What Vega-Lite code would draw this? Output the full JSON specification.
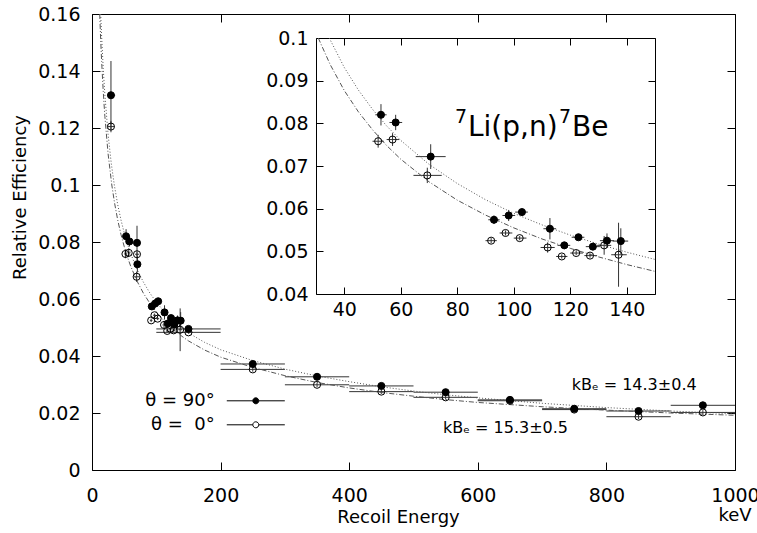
{
  "$schema": "https://vega.github.io/schema/vega-lite/v6.json",
  "width": 643,
  "height": 456,
  "autosize": {"type": "none"},
  "padding": {"left": 92, "top": 14, "right": 22, "bottom": 63},
  "background": "white",
  "datasets": {
    "pts": [
      {"s": "θ = 90°", "E": 29.5, "y": 0.1315, "xlo": 24, "xhi": 36, "ylo": 0.1195, "yhi": 0.1435, "ins": false},
      {"s": "θ = 90°", "E": 53.0, "y": 0.0820, "xlo": 51, "xhi": 55, "ylo": 0.0795, "yhi": 0.0845, "ins": true},
      {"s": "θ = 90°", "E": 58.2, "y": 0.0802, "xlo": 56, "xhi": 60.5, "ylo": 0.0784, "yhi": 0.0820, "ins": true},
      {"s": "θ = 90°", "E": 70.6, "y": 0.0722, "xlo": 65.3, "xhi": 75.9, "ylo": 0.0693, "yhi": 0.0751, "ins": true},
      {"s": "θ = 90°", "E": 70.0, "y": 0.0797, "xlo": 67, "xhi": 73, "ylo": 0.0737, "yhi": 0.0857, "ins": false},
      {"s": "θ = 90°", "E": 93.0, "y": 0.0574, "xlo": 91, "xhi": 95, "ylo": 0.0564, "yhi": 0.0584, "ins": true},
      {"s": "θ = 90°", "E": 98.2, "y": 0.0584, "xlo": 96, "xhi": 100.5, "ylo": 0.0571, "yhi": 0.0597, "ins": true},
      {"s": "θ = 90°", "E": 102.9, "y": 0.0592, "xlo": 100.5, "xhi": 105, "ylo": 0.0584, "yhi": 0.0600, "ins": true},
      {"s": "θ = 90°", "E": 112.8, "y": 0.0553, "xlo": 110.5, "xhi": 115, "ylo": 0.0528, "yhi": 0.0578, "ins": true},
      {"s": "θ = 90°", "E": 117.9, "y": 0.0514, "xlo": 115.5, "xhi": 120, "ylo": 0.0506, "yhi": 0.0522, "ins": true},
      {"s": "θ = 90°", "E": 122.9, "y": 0.0533, "xlo": 120.5, "xhi": 125, "ylo": 0.0528, "yhi": 0.0538, "ins": true},
      {"s": "θ = 90°", "E": 128.0, "y": 0.0511, "xlo": 125.5, "xhi": 130.5, "ylo": 0.0503, "yhi": 0.0519, "ins": true},
      {"s": "θ = 90°", "E": 133.0, "y": 0.0525, "xlo": 130.5, "xhi": 135.5, "ylo": 0.0508, "yhi": 0.0542, "ins": true},
      {"s": "θ = 90°", "E": 137.9, "y": 0.0524, "xlo": 135, "xhi": 140.5, "ylo": 0.0494, "yhi": 0.0554, "ins": true},
      {"s": "θ = 90°", "E": 150, "y": 0.0495, "xlo": 100, "xhi": 200, "ylo": 0.0488, "yhi": 0.0502, "ins": false},
      {"s": "θ = 90°", "E": 250, "y": 0.0372, "xlo": 200, "xhi": 300, "ylo": 0.0362, "yhi": 0.0382, "ins": false},
      {"s": "θ = 90°", "E": 350, "y": 0.0327, "xlo": 300, "xhi": 400, "ylo": 0.0317, "yhi": 0.0337, "ins": false},
      {"s": "θ = 90°", "E": 450, "y": 0.0295, "xlo": 400, "xhi": 500, "ylo": 0.0285, "yhi": 0.0305, "ins": false},
      {"s": "θ = 90°", "E": 550, "y": 0.0273, "xlo": 500, "xhi": 600, "ylo": 0.0263, "yhi": 0.0283, "ins": false},
      {"s": "θ = 90°", "E": 650, "y": 0.0246, "xlo": 600, "xhi": 700, "ylo": 0.0236, "yhi": 0.0256, "ins": false},
      {"s": "θ = 90°", "E": 750, "y": 0.0215, "xlo": 700, "xhi": 800, "ylo": 0.0207, "yhi": 0.0223, "ins": false},
      {"s": "θ = 90°", "E": 850, "y": 0.0207, "xlo": 800, "xhi": 900, "ylo": 0.0199, "yhi": 0.0215, "ins": false},
      {"s": "θ = 90°", "E": 950, "y": 0.0227, "xlo": 900, "xhi": 1000, "ylo": 0.0215, "yhi": 0.0239, "ins": false},
      {"s": "θ =\u00a0 0°", "E": 29.5, "y": 0.1205, "xlo": 24, "xhi": 35, "ylo": 0.1185, "yhi": 0.1225, "ins": false},
      {"s": "θ =\u00a0 0°", "E": 52.0, "y": 0.0758, "xlo": 50, "xhi": 54, "ylo": 0.0743, "yhi": 0.0773, "ins": true},
      {"s": "θ =\u00a0 0°", "E": 57.1, "y": 0.0762, "xlo": 55, "xhi": 59.5, "ylo": 0.0747, "yhi": 0.0777, "ins": true},
      {"s": "θ =\u00a0 0°", "E": 69.4, "y": 0.0678, "xlo": 64.5, "xhi": 74.5, "ylo": 0.0660, "yhi": 0.0696, "ins": true},
      {"s": "θ =\u00a0 0°", "E": 70.0, "y": 0.0757, "xlo": 67, "xhi": 73.5, "ylo": 0.0750, "yhi": 0.0764, "ins": false},
      {"s": "θ =\u00a0 0°", "E": 92.0, "y": 0.0525, "xlo": 90, "xhi": 94, "ylo": 0.0519, "yhi": 0.0531, "ins": true},
      {"s": "θ =\u00a0 0°", "E": 97.1, "y": 0.0543, "xlo": 95, "xhi": 99.5, "ylo": 0.0537, "yhi": 0.0549, "ins": true},
      {"s": "θ =\u00a0 0°", "E": 102.1, "y": 0.0531, "xlo": 100, "xhi": 104.5, "ylo": 0.0526, "yhi": 0.0536, "ins": true},
      {"s": "θ =\u00a0 0°", "E": 112.0, "y": 0.0509, "xlo": 109.5, "xhi": 114.5, "ylo": 0.0497, "yhi": 0.0521, "ins": true},
      {"s": "θ =\u00a0 0°", "E": 117.0, "y": 0.0488, "xlo": 115, "xhi": 119, "ylo": 0.0483, "yhi": 0.0493, "ins": true},
      {"s": "θ =\u00a0 0°", "E": 122.1, "y": 0.0496, "xlo": 120, "xhi": 124.5, "ylo": 0.0491, "yhi": 0.0501, "ins": true},
      {"s": "θ =\u00a0 0°", "E": 127.0, "y": 0.0490, "xlo": 125, "xhi": 129.5, "ylo": 0.0485, "yhi": 0.0495, "ins": true},
      {"s": "θ =\u00a0 0°", "E": 132.0, "y": 0.0514, "xlo": 129.5, "xhi": 134.5, "ylo": 0.0492, "yhi": 0.0536, "ins": true},
      {"s": "θ =\u00a0 0°", "E": 137.1, "y": 0.0492, "xlo": 134.5, "xhi": 140, "ylo": 0.0417, "yhi": 0.0567, "ins": true},
      {"s": "θ =\u00a0 0°", "E": 150, "y": 0.0483, "xlo": 100, "xhi": 200, "ylo": 0.0478, "yhi": 0.0488, "ins": false},
      {"s": "θ =\u00a0 0°", "E": 250, "y": 0.0353, "xlo": 200, "xhi": 300, "ylo": 0.0345, "yhi": 0.0361, "ins": false},
      {"s": "θ =\u00a0 0°", "E": 350, "y": 0.0299, "xlo": 300, "xhi": 400, "ylo": 0.0291, "yhi": 0.0307, "ins": false},
      {"s": "θ =\u00a0 0°", "E": 450, "y": 0.0275, "xlo": 400, "xhi": 500, "ylo": 0.0267, "yhi": 0.0283, "ins": false},
      {"s": "θ =\u00a0 0°", "E": 550, "y": 0.0255, "xlo": 500, "xhi": 600, "ylo": 0.0247, "yhi": 0.0263, "ins": false},
      {"s": "θ =\u00a0 0°", "E": 650, "y": 0.0243, "xlo": 600, "xhi": 700, "ylo": 0.0235, "yhi": 0.0251, "ins": false},
      {"s": "θ =\u00a0 0°", "E": 750, "y": 0.0212, "xlo": 700, "xhi": 800, "ylo": 0.0204, "yhi": 0.0220, "ins": false},
      {"s": "θ =\u00a0 0°", "E": 850, "y": 0.0187, "xlo": 800, "xhi": 900, "ylo": 0.0179, "yhi": 0.0195, "ins": false},
      {"s": "θ =\u00a0 0°", "E": 950, "y": 0.0202, "xlo": 900, "xhi": 1000, "ylo": 0.0194, "yhi": 0.0210, "ins": false}
    ],
    "fits": [
      {"c": "14.3", "E": 13.5, "y": 0.160}, {"c": "14.3", "E": 15, "y": 0.152}, {"c": "14.3", "E": 17.5, "y": 0.1408},
      {"c": "14.3", "E": 20, "y": 0.1317}, {"c": "14.3", "E": 25, "y": 0.1178}, {"c": "14.3", "E": 30, "y": 0.1075},
      {"c": "14.3", "E": 34.7, "y": 0.100}, {"c": "14.3", "E": 40, "y": 0.0931}, {"c": "14.3", "E": 45, "y": 0.0878},
      {"c": "14.3", "E": 50, "y": 0.0833}, {"c": "14.3", "E": 55, "y": 0.0794}, {"c": "14.3", "E": 60, "y": 0.0760},
      {"c": "14.3", "E": 70, "y": 0.0704}, {"c": "14.3", "E": 80, "y": 0.0659}, {"c": "14.3", "E": 90, "y": 0.0621},
      {"c": "14.3", "E": 100, "y": 0.0589}, {"c": "14.3", "E": 110, "y": 0.0562}, {"c": "14.3", "E": 120, "y": 0.0538},
      {"c": "14.3", "E": 130, "y": 0.0517}, {"c": "14.3", "E": 140, "y": 0.0498}, {"c": "14.3", "E": 150, "y": 0.0481},
      {"c": "14.3", "E": 175, "y": 0.0448}, {"c": "14.3", "E": 200, "y": 0.0422}, {"c": "14.3", "E": 250, "y": 0.0384},
      {"c": "14.3", "E": 300, "y": 0.0354}, {"c": "14.3", "E": 350, "y": 0.0330}, {"c": "14.3", "E": 400, "y": 0.0310},
      {"c": "14.3", "E": 450, "y": 0.0292}, {"c": "14.3", "E": 500, "y": 0.0277}, {"c": "14.3", "E": 550, "y": 0.0264},
      {"c": "14.3", "E": 600, "y": 0.0253}, {"c": "14.3", "E": 700, "y": 0.0234}, {"c": "14.3", "E": 800, "y": 0.0219},
      {"c": "14.3", "E": 900, "y": 0.0207}, {"c": "14.3", "E": 1000, "y": 0.0197},
      {"c": "15.3", "E": 12, "y": 0.160}, {"c": "15.3", "E": 13.5, "y": 0.151}, {"c": "15.3", "E": 15, "y": 0.1433},
      {"c": "15.3", "E": 17.5, "y": 0.1327}, {"c": "15.3", "E": 20, "y": 0.1241}, {"c": "15.3", "E": 25, "y": 0.1110},
      {"c": "15.3", "E": 30.8, "y": 0.100}, {"c": "15.3", "E": 35, "y": 0.0938}, {"c": "15.3", "E": 40, "y": 0.0877},
      {"c": "15.3", "E": 45, "y": 0.0827}, {"c": "15.3", "E": 50, "y": 0.0785}, {"c": "15.3", "E": 55, "y": 0.0748},
      {"c": "15.3", "E": 60, "y": 0.0716}, {"c": "15.3", "E": 70, "y": 0.0663}, {"c": "15.3", "E": 80, "y": 0.0620},
      {"c": "15.3", "E": 90, "y": 0.0585}, {"c": "15.3", "E": 100, "y": 0.0555}, {"c": "15.3", "E": 110, "y": 0.0529},
      {"c": "15.3", "E": 120, "y": 0.0507}, {"c": "15.3", "E": 130, "y": 0.0487}, {"c": "15.3", "E": 140, "y": 0.0469},
      {"c": "15.3", "E": 150, "y": 0.0453}, {"c": "15.3", "E": 175, "y": 0.0421}, {"c": "15.3", "E": 200, "y": 0.0396},
      {"c": "15.3", "E": 250, "y": 0.0360}, {"c": "15.3", "E": 300, "y": 0.0331}, {"c": "15.3", "E": 350, "y": 0.0307},
      {"c": "15.3", "E": 400, "y": 0.0288}, {"c": "15.3", "E": 450, "y": 0.0272}, {"c": "15.3", "E": 500, "y": 0.0259},
      {"c": "15.3", "E": 550, "y": 0.0247}, {"c": "15.3", "E": 600, "y": 0.0237}, {"c": "15.3", "E": 700, "y": 0.0222},
      {"c": "15.3", "E": 800, "y": 0.0210}, {"c": "15.3", "E": 900, "y": 0.0200}, {"c": "15.3", "E": 1000, "y": 0.0192}
    ],
    "notes": [
      {"t": "kBₑ = 14.3±0.4", "E": 746, "y": 0.0298},
      {"t": "kBₑ = 15.3±0.5", "E": 546, "y": 0.0147}
    ],
    "unit": [{"t": "keV", "E": 1000, "y": -0.0160}],
    "insetnote": [
      {"part": "a", "t": "7", "E": 83.8, "y": 0.0789},
      {"part": "b", "t": "Li(p,n)", "E": 83.8, "y": 0.0789},
      {"part": "c", "t": "7", "E": 83.8, "y": 0.0789},
      {"part": "d", "t": "Be", "E": 83.8, "y": 0.0789}
    ]
  },
  "resolve": {
    "scale": {"x": "independent", "y": "independent", "fill": "independent", "strokeDash": "independent"},
    "axis": {"x": "independent", "y": "independent"}
  },
  "layer": [
    {
      "data": {"name": "pts"},
      "mark": {"type": "rule", "stroke": "#333", "strokeWidth": 1, "clip": true},
      "encoding": {
        "x": {"field": "xlo", "type": "quantitative", "scale": {"domain": [0, 1000]},
          "axis": {"orient": "bottom", "values": [0, 200, 400, 600, 800, 1000], "format": "d", "tickSize": -8, "labelPadding": 24, "labelFlush": false, "domain": false,
            "title": "Recoil Energy", "titleX": 306, "titleY": 47, "titleBaseline": "middle", "titleAnchor": "start", "titleAlign": "center"}},
        "x2": {"field": "xhi"},
        "y": {"field": "y", "type": "quantitative", "scale": {"domain": [0, 0.16]},
          "axis": {"orient": "left", "values": [0, 0.02, 0.04, 0.06, 0.08, 0.1, 0.12, 0.14, 0.16], "format": "~g", "tickSize": -8, "labelPadding": 20, "labelFlush": false, "domain": false,
            "title": "Relative Efficiency", "titleX": -72, "titleY": 183, "titleBaseline": "middle", "titleAlign": "center", "titleAngle": -90}}
      }
    },
    {
      "data": {"name": "pts"},
      "mark": {"type": "rule", "stroke": "#333", "strokeWidth": 1, "clip": true},
      "encoding": {
        "x": {"field": "E", "type": "quantitative", "scale": {"domain": [0, 1000]},
          "axis": {"orient": "top", "values": [0, 200, 400, 600, 800, 1000], "tickSize": -8, "labels": false, "domain": false, "title": null}},
        "y": {"field": "ylo", "type": "quantitative", "scale": {"domain": [0, 0.16]},
          "axis": {"orient": "right", "values": [0, 0.02, 0.04, 0.06, 0.08, 0.1, 0.12, 0.14, 0.16], "tickSize": -8, "labels": false, "domain": false, "title": null}},
        "y2": {"field": "yhi"}
      }
    },
    {
      "data": {"name": "fits"},
      "mark": {"type": "line", "stroke": "#555", "strokeWidth": 1, "clip": true},
      "encoding": {
        "x": {"field": "E", "type": "quantitative", "scale": {"domain": [0, 1000]}, "axis": null},
        "y": {"field": "y", "type": "quantitative", "scale": {"domain": [0, 0.16]}, "axis": null},
        "strokeDash": {"field": "c", "type": "nominal", "scale": {"domain": ["14.3", "15.3"], "range": [[1, 2], [5, 2, 1, 2]]}, "legend": null}
      }
    },
    {
      "data": {"name": "pts"},
      "mark": {"type": "point", "filled": true, "stroke": "black", "strokeWidth": 1, "opacity": 1, "clip": true},
      "encoding": {
        "x": {"field": "E", "type": "quantitative", "scale": {"domain": [0, 1000]}, "axis": null},
        "y": {"field": "y", "type": "quantitative", "scale": {"domain": [0, 0.16]}, "axis": null},
        "fill": {"field": "s", "type": "nominal", "scale": {"domain": ["θ = 90°", "θ =\u00a0 0°"], "range": ["black", "transparent"]},
          "legend": {"orient": "none", "legendX": 153.3, "legendY": 376.3, "title": null,
            "symbolType": "M-3,0H-0.31M0.31,0H3M0.31,0A0.31,0.31,0,1,1,-0.31,0A0.31,0.31,0,1,1,0.31,0Z",
            "symbolSize": 374, "symbolStrokeColor": "black", "symbolStrokeWidth": 1,
            "labelAlign": "right", "labelOffset": -51.6, "labelFontSize": 18, "labelFont": "DejaVu Sans", "labelColor": "black",
            "rowPadding": 4, "padding": 0}}
      }
    },
    {
      "data": {"name": "pts"},
      "transform": [{"filter": "datum.ins"}],
      "mark": {"type": "rule", "stroke": "#333", "strokeWidth": 1},
      "encoding": {
        "x": {"field": "xlo", "type": "quantitative", "scale": {"domain": [30, 150], "range": [224, 563]},
          "axis": {"orient": "bottom", "offset": -176, "values": [40, 60, 80, 100, 120, 140], "format": "d", "tickSize": -7, "labelPadding": 13, "labelFlush": false, "domain": true, "title": null}},
        "x2": {"field": "xhi"},
        "y": {"field": "y", "type": "quantitative", "scale": {"domain": [0.04, 0.1], "range": [280, 24]},
          "axis": {"orient": "left", "offset": -224, "values": [0.04, 0.05, 0.06, 0.07, 0.08, 0.09, 0.1], "format": "~g", "tickSize": -7, "labelPadding": 15, "labelFlush": false, "domain": true, "title": null}}
      }
    },
    {
      "data": {"name": "pts"},
      "transform": [{"filter": "datum.ins"}],
      "mark": {"type": "rule", "stroke": "#333", "strokeWidth": 1},
      "encoding": {
        "x": {"field": "E", "type": "quantitative", "scale": {"domain": [30, 150], "range": [224, 563]},
          "axis": {"orient": "top", "offset": -24, "values": [40, 60, 80, 100, 120, 140], "tickSize": -7, "labels": false, "domain": true, "title": null}},
        "y": {"field": "ylo", "type": "quantitative", "scale": {"domain": [0.04, 0.1], "range": [280, 24]},
          "axis": {"orient": "right", "offset": -80, "values": [0.04, 0.05, 0.06, 0.07, 0.08, 0.09, 0.1], "tickSize": -7, "labels": false, "domain": true, "title": null}},
        "y2": {"field": "yhi"}
      }
    },
    {
      "data": {"name": "fits"},
      "transform": [{"filter": "datum.y <= 0.1 && datum.E >= 30 && datum.E <= 150"}],
      "mark": {"type": "line", "stroke": "#555", "strokeWidth": 1},
      "encoding": {
        "x": {"field": "E", "type": "quantitative", "scale": {"domain": [30, 150], "range": [224, 563]}, "axis": null},
        "y": {"field": "y", "type": "quantitative", "scale": {"domain": [0.04, 0.1], "range": [280, 24]}, "axis": null},
        "strokeDash": {"field": "c", "type": "nominal", "scale": {"domain": ["14.3", "15.3"], "range": [[1, 2], [5, 2, 1, 2]]}, "legend": null}
      }
    },
    {
      "data": {"name": "pts"},
      "transform": [{"filter": "datum.ins"}],
      "mark": {"type": "point", "filled": true, "stroke": "black", "strokeWidth": 1, "opacity": 1},
      "encoding": {
        "x": {"field": "E", "type": "quantitative", "scale": {"domain": [30, 150], "range": [224, 563]}, "axis": null},
        "y": {"field": "y", "type": "quantitative", "scale": {"domain": [0.04, 0.1], "range": [280, 24]}, "axis": null},
        "fill": {"field": "s", "type": "nominal", "scale": {"domain": ["θ = 90°", "θ =\u00a0 0°"], "range": ["black", "transparent"]}, "legend": null}
      }
    },
    {
      "data": {"name": "notes"},
      "mark": {"type": "text", "align": "left", "baseline": "middle", "fontSize": 16, "font": "DejaVu Sans", "color": "black"},
      "encoding": {
        "x": {"field": "E", "type": "quantitative", "scale": {"domain": [0, 1000]}, "axis": null},
        "y": {"field": "y", "type": "quantitative", "scale": {"domain": [0, 0.16]}, "axis": null},
        "text": {"field": "t"}
      }
    },
    {
      "data": {"name": "unit"},
      "mark": {"type": "text", "align": "center", "baseline": "middle", "fontSize": 18, "font": "DejaVu Sans", "color": "black"},
      "encoding": {
        "x": {"field": "E", "type": "quantitative", "scale": {"domain": [0, 1000]}, "axis": null},
        "y": {"field": "y", "type": "quantitative", "scale": {"domain": [0, 0.16]}, "axis": null},
        "text": {"field": "t"}
      }
    },
    {
      "data": {"name": "insetnote"},
      "transform": [{"filter": "datum.part == 'a'"}],
      "mark": {"type": "text", "align": "right", "baseline": "middle", "dx": -1, "dy": -11, "fontSize": 19, "font": "DejaVu Sans", "color": "black"},
      "encoding": {
        "x": {"field": "E", "type": "quantitative", "scale": {"domain": [30, 150], "range": [224, 563]}, "axis": null},
        "y": {"field": "y", "type": "quantitative", "scale": {"domain": [0.04, 0.1], "range": [280, 24]}, "axis": null},
        "text": {"field": "t"}
      }
    },
    {
      "data": {"name": "insetnote"},
      "transform": [{"filter": "datum.part == 'b'"}],
      "mark": {"type": "text", "align": "left", "baseline": "middle", "fontSize": 28, "font": "DejaVu Sans", "color": "black"},
      "encoding": {
        "x": {"field": "E", "type": "quantitative", "scale": {"domain": [30, 150], "range": [224, 563]}, "axis": null},
        "y": {"field": "y", "type": "quantitative", "scale": {"domain": [0.04, 0.1], "range": [280, 24]}, "axis": null},
        "text": {"field": "t"}
      }
    },
    {
      "data": {"name": "insetnote"},
      "transform": [{"filter": "datum.part == 'c'"}],
      "mark": {"type": "text", "align": "left", "baseline": "middle", "dx": 91, "dy": -11, "fontSize": 19, "font": "DejaVu Sans", "color": "black"},
      "encoding": {
        "x": {"field": "E", "type": "quantitative", "scale": {"domain": [30, 150], "range": [224, 563]}, "axis": null},
        "y": {"field": "y", "type": "quantitative", "scale": {"domain": [0.04, 0.1], "range": [280, 24]}, "axis": null},
        "text": {"field": "t"}
      }
    },
    {
      "data": {"name": "insetnote"},
      "transform": [{"filter": "datum.part == 'd'"}],
      "mark": {"type": "text", "align": "left", "baseline": "middle", "dx": 104, "fontSize": 28, "font": "DejaVu Sans", "color": "black"},
      "encoding": {
        "x": {"field": "E", "type": "quantitative", "scale": {"domain": [30, 150], "range": [224, 563]}, "axis": null},
        "y": {"field": "y", "type": "quantitative", "scale": {"domain": [0.04, 0.1], "range": [280, 24]}, "axis": null},
        "text": {"field": "t"}
      }
    }
  ],
  "config": {
    "view": {"stroke": "black", "strokeWidth": 1},
    "point": {"size": 50},
    "axis": {"grid": false, "labelFont": "DejaVu Sans", "titleFont": "DejaVu Sans", "labelColor": "black", "titleColor": "black",
      "tickColor": "black", "domainColor": "black", "titleFontWeight": "normal", "labelFontSize": 19, "titleFontSize": 18, "tickWidth": 1, "domainWidth": 1}
  }
}
